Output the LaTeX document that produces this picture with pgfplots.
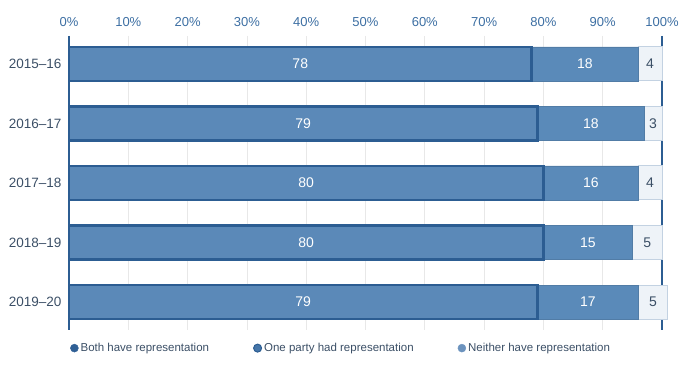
\documentclass[border=0pt]{standalone}
\usepackage{pgfplots}
\pgfplotsset{compat=1.18}
\usepackage{pgfplotstable}
\usepackage{fontspec}
\setmainfont{Liberation Sans}
\definecolor{darkb}{HTML}{2C5D92}
\definecolor{fillb}{HTML}{5B89B8}
\definecolor{fillc}{HTML}{5A8AB9}
\definecolor{lightb}{HTML}{EEF3F8}
\definecolor{lightedge}{HTML}{C3D2E2}
\definecolor{ticklab}{HTML}{3D6FA3}
\definecolor{ylab}{HTML}{3B4F66}
\definecolor{legdark}{HTML}{2F5F95}
\definecolor{legmid}{HTML}{4676A9}
\definecolor{leglight}{HTML}{6C93BE}
\pgfplotstableread{
idx a b c
0 78 18 4
1 79 18 3
2 80 16 4
3 80 15 5
4 79 17 5
}\data
\begin{document}
\begin{tikzpicture}
\path[use as bounding box] (-69pt,-60pt) rectangle (620pt,330pt);
\begin{axis}[
  at={(0,0)}, anchor=south west,
  scale only axis, width=593pt, height=294pt,
  xbar stacked, bar width=34pt,
  xmin=0, xmax=100, ymin=-0.47, ymax=4.47, y dir=reverse,
  clip=false,
  /pgf/number format/assume math mode=true,
  xtick={0,10,...,100},
  xticklabels={0\%,10\%,20\%,30\%,40\%,50\%,60\%,70\%,80\%,90\%,100\%},
  xticklabel pos=upper,
  ytick={0,1,2,3,4},
  yticklabels={2015--16,2016--17,2017--18,2018--19,2019--20},
  axis line style={draw=none},
  major tick length=0pt, minor tick length=0pt,
  x tick label style={font=\fontsize{13}{15}\selectfont, text=ticklab, yshift=6pt},
  y tick label style={font=\fontsize{13.5}{16}\selectfont, text=ylab, xshift=-4pt},
  xmajorgrids, major grid style={gray!18, line width=0.8pt},
  minor xtick={10,30,50,70,90}, xminorgrids, minor grid style={gray!55, line width=0.8pt},
  extra x ticks={0,100}, extra x tick labels={},
  extra x tick style={grid=major, major grid style={darkb, line width=1.6pt}},
  legend columns=3,
  legend style={at={(0,0)}, anchor=north west, yshift=-9pt, xshift=-2pt,
    draw=none, fill=none, font=\fontsize{11.5}{13}\selectfont, text=ylab,
    /tikz/every even column/.append style={column sep=42pt}},
  legend image code/.code={\path[#1] (4pt,0pt) circle (4pt);},
]
\addplot[fill=fillb, draw=darkb, line width=2.5pt, forget plot,
  visualization depends on={\thisrow{a} \as \va},
  nodes near coords={\pgfmathprintnumber{\va}},
  every node near coord/.append style={anchor=center,
    text=white, font=\fontsize{14}{16}\selectfont, line width=0pt}]
  table[x=a, y=idx] {\data};
\addplot[fill=fillc, draw=fillc!90!black, line width=0.5pt, forget plot,
  visualization depends on={\thisrow{b} \as \vb},
  nodes near coords={\pgfmathprintnumber{\vb}},
  every node near coord/.append style={anchor=center,
    text=white, font=\fontsize{14}{16}\selectfont}]
  table[x=b, y=idx] {\data};
\addplot[fill=lightb, draw=lightedge, line width=1pt, forget plot,
  visualization depends on={\thisrow{c} \as \vc},
  nodes near coords={\pgfmathprintnumber{\vc}},
  every node near coord/.append style={anchor=center,
    text=ylab, font=\fontsize{14}{16}\selectfont}]
  table[x=c, y=idx] {\data};
\addlegendimage{fill=legdark, draw=legdark}
\addlegendentry{Both have representation}
\addlegendimage{fill=legmid, draw=darkb, line width=1pt}
\addlegendentry{One party had representation}
\addlegendimage{fill=leglight, draw=leglight}
\addlegendentry{Neither have representation}
\end{axis}
\end{tikzpicture}
\end{document}
